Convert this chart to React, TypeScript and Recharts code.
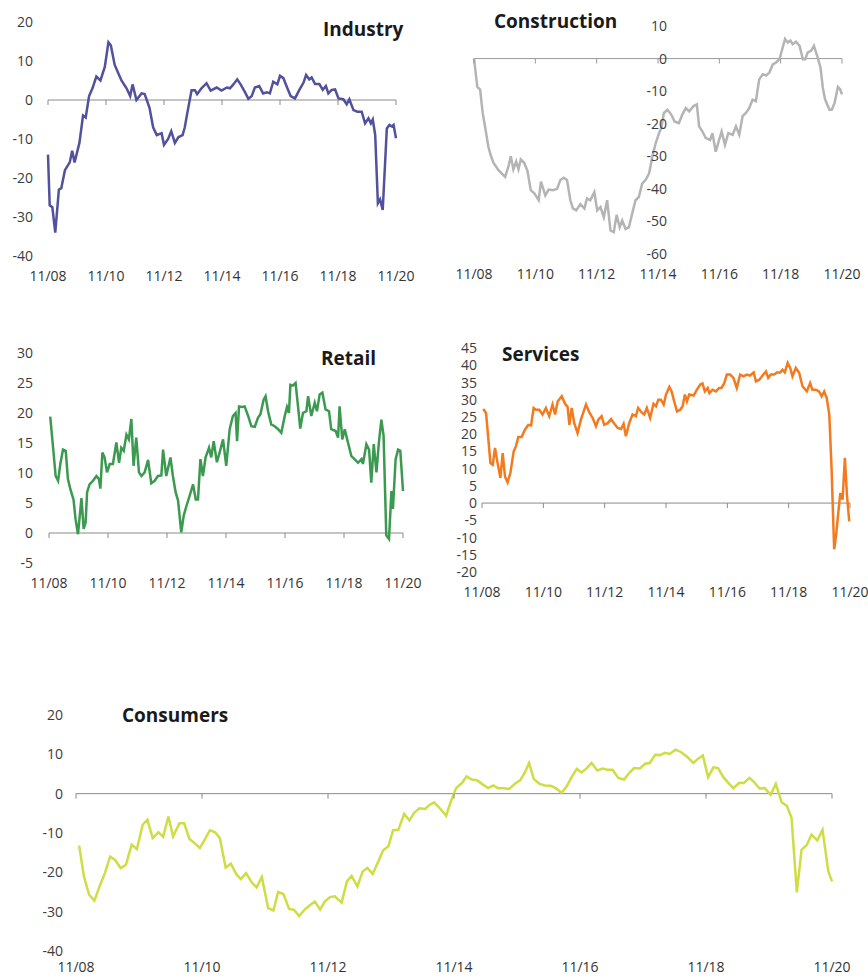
import React from 'react';
import { LineChart, Line, XAxis, YAxis, ReferenceLine, ReferenceDot } from 'recharts';

type Pt = [number, number];

const monthTicks = [0, 24, 48, 72, 96, 120, 144];
const tickLabels = ['11/08', '11/10', '11/12', '11/14', '11/16', '11/18', '11/20'];

const industryTicks = [20, 10, 0, -10, -20, -30, -40];
const constructionTicks = [10, 0, -10, -20, -30, -40, -50, -60];
const retailTicks = [30, 25, 20, 15, 10, 5, 0, -5];
const servicesTicks = [45, 40, 35, 30, 25, 20, 15, 10, 5, 0, -5, -10, -15, -20];
const consumersTicks = [20, 10, 0, -10, -20, -30, -40];

const industry: Pt[] = [
  [0, -14], [0.7, -27], [1.8, -27.5], [3, -34], [4.5, -23], [5.5, -22.6], [7, -18], [9, -16], [10, -13], [11, -16],
  [13, -11], [14.5, -4], [15.6, -4.5], [17, 1], [18.4, 3], [20, 6], [21.7, 5], [23.5, 8.5], [25, 14.8], [26, 14],
  [27.6, 9], [29, 7], [30.4, 5], [32.5, 3], [34, 1], [35, 4], [36.6, 0], [38.7, 1.7], [40, 1.5], [42, -2],
  [43.5, -7], [45, -9], [47, -8.5], [48, -11.5], [49.7, -10], [51, -8], [52.5, -11], [54, -9.5], [55.7, -9], [56.6, -7],
  [57.6, -3.5], [59.4, 2.5], [60.8, 2.5], [61.7, 1.5], [63.5, 3], [65.6, 4.3], [67.3, 2.4], [69.8, 3.2], [71.8, 2.4], [74, 3.2],
  [75.3, 3], [76.7, 4], [78.3, 5.3], [79.7, 4], [81.5, 2], [82.9, 0.3], [84.3, 1], [85.6, 3.2], [87.4, 3.6], [89, 1.7],
  [90.5, 2], [91.8, 1.7], [93.2, 4.7], [94.9, 4], [96, 6.2], [97.4, 5.6], [98.8, 3.4], [100.4, 1], [102.2, 0.4], [104, 2.6],
  [105.7, 4.4], [106.8, 6.4], [108.1, 5.3], [109.1, 5.8], [110.5, 4.1], [112.3, 4.1], [113.7, 2.6], [115, 3.6], [116, 1.7], [117.4, 2.6],
  [118.8, 2.7], [120.2, 0.4], [122.2, 0.2], [123.6, -1.1], [124.7, 0.2], [126.4, -2.6], [128, -3], [129.8, -3], [131.2, -6], [132.6, -4.7],
  [133.6, -6], [134.4, -5], [135.4, -9], [136.5, -26.5], [137.4, -25.5], [138.5, -28.2], [139.5, -16], [140.2, -7.3], [141.3, -6.4], [142.3, -6.8],
  [143, -6.4], [144, -9.8],
];

const construction: Pt[] = [
  [0, 0], [1.3, -8.7], [2.4, -9.5], [3.4, -16.7], [4.3, -20.8], [5.6, -27], [6.5, -29.6], [7.6, -32], [9.5, -34.2], [10.9, -35.3],
  [12.2, -36.3], [13.5, -33], [14.4, -30], [15.4, -34], [16.5, -31.6], [17.4, -34], [18.3, -31], [19.6, -32], [20.9, -34.4], [22.2, -40.4],
  [23.6, -41.4], [25.3, -43.5], [26.2, -37.8], [27.9, -42], [29.2, -40.2], [30.9, -40.4], [32.5, -40], [33.8, -37.3], [35.1, -36.6], [36.4, -37.3],
  [37.7, -43.5], [38.7, -46], [40, -46.6], [41.6, -44.7], [43.2, -46], [44.2, -42.9], [45.5, -43.5], [47.1, -41], [48.2, -46.6], [49.5, -45.6],
  [50.8, -48.7], [52.1, -43.5], [53.4, -52.8], [54.7, -53.3], [55.8, -48], [57, -51.8], [58, -49.7], [59.3, -52.3], [60.6, -51.8], [61.9, -47.6],
  [63.2, -43.5], [64.5, -42.5], [65.8, -38.4], [67.1, -37.3], [68.5, -35.3], [69.8, -30], [71.1, -26], [72.4, -22.9], [73.3, -21.3], [74.3, -16.7],
  [75.7, -15.7], [77.2, -17.2], [78.5, -19.3], [80.2, -19.8], [81.5, -17.2], [82.9, -15.2], [84.2, -16.2], [85.9, -14.6], [87.2, -14.1], [88.1, -20.8],
  [89.4, -22.4], [90.7, -24.4], [92.4, -25], [93.3, -22.9], [94.6, -28.6], [95.9, -25], [96.9, -22.4], [98.2, -26.5], [99.5, -22.9], [101.2, -23.4],
  [102.5, -20.8], [103.8, -23.4], [105.1, -17.7], [106.4, -16.7], [107.7, -15.2], [109, -12.6], [110.3, -13.1], [111.6, -6.4], [113, -4.8], [114.3, -5.2],
  [115.6, -4.3], [116.9, -1.8], [118.2, -1.2], [119.5, -0.2], [120.8, 3.4], [121.7, 6], [122.8, 4.9], [123.8, 5.5], [124.7, 4.4], [126, 5.2],
  [127.4, 3.9], [128.7, -0.2], [129.6, -0.2], [130.6, 1.9], [131.9, 2.4], [133, 3.9], [134.3, 0.8], [135.6, -2.8], [136.5, -9], [137.4, -12.6],
  [139.1, -15.7], [140, -15.7], [141.1, -13.6], [142.4, -8.7], [143.3, -9.5], [144, -11],
];

const retail: Pt[] = [
  [0.5, 19.4], [1.6, 14.5], [2.7, 9.5], [3.7, 8.7], [4.6, 11.5], [5.7, 13.9], [6.8, 13.7], [7.7, 9], [8.7, 7.3], [10, 5.5],
  [10.8, 2.3], [11.8, -0.2], [13.2, 5.8], [14.1, 0.7], [14.9, 1.8], [15.5, 6.8], [16.5, 8.1], [17.9, 8.7], [19.3, 9.5], [20.3, 9],
  [20.9, 7.4], [21.7, 13.4], [22.6, 12.6], [23.6, 10.1], [24.7, 11.5], [26, 11.5], [27.4, 15.1], [28.5, 11.7], [29.4, 14.2], [30.4, 13.7],
  [31.5, 16.4], [32.5, 15.6], [33.5, 19], [34.4, 11.2], [35.5, 15.9], [36.6, 10.1], [37.6, 9.5], [38.9, 10.1], [40.3, 12.2], [41.6, 8.3],
  [43, 8.7], [44.3, 9.5], [45.7, 9.6], [46.4, 13.9], [47.7, 9.5], [49.4, 12.6], [50.4, 9.5], [51.5, 6.8], [52.5, 5.4], [53.8, 0.1],
  [54.8, 2.9], [55.9, 4.5], [57.2, 6.2], [58.6, 8.1], [59.7, 5.6], [60.6, 5.6], [61.6, 12.3], [62.6, 9.5], [63.7, 12.6], [65.1, 14.2],
  [66, 12.6], [67, 15.3], [68.3, 11.8], [69.4, 13.4], [70.8, 15.6], [72.1, 11.2], [73.5, 17.3], [74.8, 19.5], [75.9, 20], [76.5, 15.3],
  [77.3, 21.1], [78.6, 21], [79.6, 21.1], [81, 19.5], [82.3, 17.8], [83.7, 17.7], [85, 19.2], [86, 19.8], [87.3, 22.2], [88.1, 22.8],
  [89.1, 20.3], [90.4, 18.1], [91.8, 17.8], [93.2, 17.3], [94.5, 16.7], [95.9, 19.5], [96.8, 21], [97.6, 20], [98.2, 24.7], [99.3, 24.6],
  [100.3, 25], [101.3, 21.1], [102.2, 17.4], [103.3, 20], [104.7, 20.3], [105.4, 22.8], [106.7, 19.5], [108.1, 21.7], [109, 20.3], [110.1, 23.1],
  [111.2, 23.4], [112.5, 20.6], [113.9, 20.3], [114.8, 17.3], [116.6, 17], [117.6, 15.9], [118.2, 21.1], [119.3, 15.6], [120.3, 17.3], [121.6, 15.1],
  [123, 12.8], [124.3, 12.3], [125.7, 11.7], [127.1, 12.3], [127.7, 11.5], [129.1, 14.8], [130.2, 13.9], [131.1, 8.4], [132.1, 14.8], [133.2, 10.1],
  [134.2, 15.1], [135.2, 18.9], [136.1, 16.2], [137.2, -0.4], [138.3, -1], [139.3, 7], [139.9, 4], [141, 12.3], [142, 13.9], [142.9, 13.7],
  [144, 7],
];

const services: Pt[] = [
  [0.5, 27.3], [1.6, 26.1], [2.5, 18.4], [3.3, 11.6], [4.2, 11.1], [5.1, 16], [6.1, 11.6], [7.2, 7.3], [8.1, 14.5], [9, 7.7],
  [10, 6], [11.1, 8.7], [12.4, 15], [13.3, 16.5], [14.2, 19.2], [15.5, 19.2], [16.8, 21.3], [18.1, 22.7], [19.2, 22.5], [20.2, 27.6],
  [21.1, 27.1], [22.4, 27.1], [23.7, 25.7], [25, 27.6], [26.3, 25.2], [27.6, 28.6], [28.6, 25.7], [29.6, 29.5], [31.2, 31], [32.5, 28.8],
  [33.5, 27.9], [34.2, 22.7], [35.1, 27.6], [36.1, 23.2], [37.4, 20.3], [38.7, 24.2], [40.7, 28.6], [42, 26.3], [43.3, 24.7], [44.6, 22.3],
  [45.5, 24.2], [46.8, 25.2], [47.8, 22.7], [49.2, 23.2], [50.5, 24.4], [51.8, 23], [53.1, 21.8], [54.4, 21.5], [55.4, 23], [56.3, 19.4],
  [57.6, 23.2], [58.9, 25.7], [60.2, 25.2], [61.1, 27.6], [62.5, 26.3], [63.5, 25.7], [64.5, 27.6], [65.8, 24.7], [67.1, 28.8], [68.1, 28.1],
  [69, 30], [70, 30], [71.1, 28.6], [72, 31.5], [73.3, 33.7], [74.2, 32.4], [75.2, 29.5], [76.3, 26.6], [77.6, 27.1], [78.5, 28.1],
  [79.4, 31.5], [80.2, 29.5], [81.1, 31.5], [82.8, 31.2], [84.1, 32.9], [85.4, 34.4], [86.3, 34.7], [87.2, 32.4], [88.3, 33.4], [89, 31.9],
  [90.2, 32.9], [91.5, 32.4], [92.8, 33.4], [93.7, 33.4], [94.8, 34.8], [95.8, 37.3], [97.1, 37.3], [98.4, 36.3], [99.7, 33.4], [101, 37.3],
  [102.3, 36.8], [103.6, 37.3], [104.9, 37], [106.3, 37.9], [107.2, 35.3], [108.5, 35.8], [109.8, 37], [111.1, 38.2], [112, 36.3], [113, 37.3],
  [114.3, 37.3], [115.4, 37.9], [116.7, 37.9], [117.6, 38.7], [118.5, 37.9], [119.6, 40.7], [120.6, 39.2], [121.5, 36.8], [122.8, 39.2], [124.1, 37.8],
  [125.4, 33.9], [127.1, 32.4], [128.4, 34.8], [129.3, 32.9], [130.6, 32.9], [131.9, 32.4], [132.9, 31], [133.9, 32.4], [134.9, 30.5], [135.9, 25.7],
  [136.8, 9.7], [137.8, -13.4], [138.5, -9.7], [139.4, -2.9], [140.2, 2.9], [141.1, 1], [142, 13.1], [142.8, 2.4], [143.7, -5.3],
];

const consumers: Pt[] = [
  [0.6, -13.2], [1.5, -21], [2.5, -25.7], [3.5, -27.2], [4.6, -23.2], [5.5, -20.2], [6.5, -16], [7.4, -16.8], [8.5, -18.9], [9.5, -18.1],
  [10.6, -13], [11.6, -14.1], [12.7, -7.9], [13.6, -6.6], [14.6, -11.3], [15.7, -9.8], [16.6, -11], [17.6, -5.8], [18.5, -10.9], [19.7, -7.5],
  [20.6, -7.5], [21.6, -11.5], [22.7, -12.7], [23.6, -13.8], [24.6, -11.5], [25.5, -9.3], [26.5, -9.8], [27.4, -11.3], [28.5, -18.8], [29.5, -17.8],
  [30.5, -20.4], [31.4, -21.7], [32.4, -20.2], [33.5, -22.6], [34.4, -23.8], [35.4, -21.2], [36.6, -29.1], [37.6, -29.7], [38.5, -25], [39.5, -25.5],
  [40.6, -29.3], [41.5, -29.5], [42.5, -31.1], [43.6, -29.4], [44.6, -28.3], [45.5, -27.4], [46.5, -29.5], [47.4, -27.4], [48.4, -26.3], [49.3, -26.1],
  [50.6, -27.7], [51.6, -22.3], [52.5, -20.9], [53.6, -23.6], [54.6, -19.8], [55.5, -18.9], [56.5, -20.4], [57.6, -17.2], [58.5, -14.4], [59.5, -13.4],
  [60.4, -9.3], [61.4, -9.2], [62.5, -5.1], [63.5, -6.8], [64.4, -4.9], [65.4, -3.7], [66.5, -3.9], [67.4, -2.8], [68.2, -2.2], [69.3, -3.7],
  [70.5, -5.6], [71.4, -2], [72.4, 1.4], [73.5, 2.7], [74.4, 4.4], [75.4, 3.6], [76.4, 3.4], [77.5, 2.3], [78.5, 1.4], [79.5, 2.1],
  [80.4, 1.4], [81.5, 1.4], [82.5, 1.2], [83.6, 2.5], [84.6, 3.4], [85.5, 5.4], [86.3, 7.8], [87.2, 3.7], [88.3, 2.5], [89.3, 2.1],
  [90.4, 2], [91.4, 1.4], [92.5, 0.2], [93.5, 1.9], [94.4, 4.2], [95.4, 6.3], [96.3, 5.4], [97.3, 6.5], [98.2, 7.8], [99.3, 5.9],
  [100.3, 6.4], [101.2, 6.1], [102.2, 6.1], [103.3, 4], [104.4, 3.6], [105.4, 5.3], [106.3, 6.5], [107.4, 6.4], [108.4, 7.6], [109.3, 7.8],
  [110.3, 9.9], [111.2, 9.8], [112.2, 10.4], [113.1, 10.1], [114.2, 11.2], [115.2, 10.6], [116.3, 9.5], [117.6, 7.8], [118.5, 8.9], [119.4, 9.7],
  [120.4, 4.2], [121.4, 6.7], [122.3, 6.5], [123.3, 4.2], [124.3, 2.7], [125.2, 1.4], [126.3, 2.7], [127.2, 2.7], [128.3, 4], [129.2, 2.9],
  [130.2, 1.3], [131.2, 1.4], [132.3, -0.3], [133.3, 2.5], [134.4, -2.2], [135.4, -3.1], [136.3, -6.2], [137.3, -25.1], [138.2, -14.3], [139.2, -13],
  [140.1, -10.4], [141.2, -11.9], [142.2, -9.2], [143.3, -19.8], [144, -22.3],
];

const FONT = '"Open Sans", "DejaVu Sans", sans-serif';

interface PanelProps {
  box: { x: number; y: number; w: number; h: number };
  plot: { l: number; r: number; t: number; b: number };
  domain: [number, number];
  yTicks: number[];
  series: Pt[];
  color: string;
  labelRight: number;
  axisColor?: string;
  xTickMargin?: number;
}

const XAXIS_H = 30;

function Panel({ box, plot, domain, yTicks, series, color, labelRight, axisColor = '#8a8a8a', xTickMargin = 15 }: PanelProps) {
  const data = series.map(([m, v]) => ({ m, v }));
  const margin = {
    top: plot.t - box.y,
    right: box.x + box.w - plot.r,
    left: 0,
    bottom: box.y + box.h - plot.b - XAXIS_H,
  };
  const yW = plot.l - box.x;
  const labelX = labelRight - box.x;
  const renderYTick = (p: any) => (
    <text x={labelX} y={p.y} dy="0.36em" textAnchor="end" fontSize={14} fontFamily={FONT} fill="#3c3c3c">
      {p.payload.value}
    </text>
  );
  const tickMark = (p: any) => (
    <line x1={p.cx} y1={p.cy} x2={p.cx} y2={p.cy + 5} stroke={axisColor} strokeWidth={1} />
  );
  return (
    <div style={{ position: 'absolute', left: box.x, top: box.y, width: box.w, height: box.h }}>
      <LineChart width={box.w} height={box.h} data={data} margin={margin}>
        <XAxis
          dataKey="m"
          type="number"
          domain={[0, 144]}
          ticks={monthTicks}
          interval={0}
          tickFormatter={(v: number) => tickLabels[monthTicks.indexOf(v)]}
          axisLine={false}
          tickLine={false}
          tickSize={0}
          tickMargin={xTickMargin}
          height={XAXIS_H}
          tick={{ fontSize: 14, fontFamily: FONT, fill: '#333' }}
        />
        <YAxis
          type="number"
          domain={domain}
          ticks={yTicks}
          interval={0}
          axisLine={false}
          tickLine={false}
          tickSize={0}
          tickMargin={0}
          width={yW}
          tick={renderYTick}
        />
        <ReferenceLine y={0} stroke={axisColor} strokeWidth={1} ifOverflow="visible" />
        {monthTicks.map((t) => (
          <ReferenceDot key={t} x={t} y={0} r={0} ifOverflow="visible" shape={tickMark} />
        ))}
        <Line
          type="linear"
          dataKey="v"
          stroke={color}
          strokeWidth={2.5}
          dot={false}
          isAnimationActive={false}
        />
      </LineChart>
    </div>
  );
}

const titleStyle = (left: number, baseline: number): React.CSSProperties => ({
  position: 'absolute',
  left,
  top: baseline - 17,
  fontFamily: FONT,
  fontWeight: 700,
  fontSize: 19,
  lineHeight: '19px',
  color: '#1a1a1a',
  whiteSpace: 'nowrap',
});

export default function App() {
  return (
    <div style={{ position: 'absolute', left: 0, top: 0, width: 868, height: 978, background: '#fff', overflow: 'hidden' }}>
      <Panel
        box={{ x: 0, y: 0, w: 434, h: 295 }}
        plot={{ l: 48, r: 396, t: 22, b: 256 }}
        domain={[-40, 20]}
        yTicks={industryTicks}
        series={industry}
        color="#52519c"
        labelRight={33}
      />
      <Panel
        box={{ x: 434, y: 0, w: 434, h: 295 }}
        plot={{ l: 474, r: 842, t: 26, b: 254 }}
        domain={[-60, 10]}
        yTicks={constructionTicks}
        series={construction}
        color="#b4b4b4"
        labelRight={667}
        axisColor="#9a9a9a"
      />
      <Panel
        box={{ x: 0, y: 325, w: 434, h: 275 }}
        plot={{ l: 49, r: 403, t: 353, b: 563 }}
        domain={[-5, 30]}
        yTicks={retailTicks}
        series={retail}
        color="#3b9a50"
        labelRight={33}
      />
      <Panel
        box={{ x: 434, y: 325, w: 434, h: 282 }}
        plot={{ l: 482, r: 850, t: 348, b: 572 }}
        domain={[-20, 45]}
        yTicks={servicesTicks}
        series={services}
        color="#f37a1f"
        labelRight={477}
      />
      <Panel
        box={{ x: 0, y: 690, w: 868, h: 288 }}
        plot={{ l: 76, r: 832, t: 715, b: 951 }}
        domain={[-40, 20]}
        yTicks={consumersTicks}
        series={consumers}
        color="#cfdd45"
        labelRight={63}
        xTickMargin={11}
      />
      <div style={titleStyle(323, 36.5)}>Industry</div>
      <div style={titleStyle(494, 28.5)}>Construction</div>
      <div style={titleStyle(321, 366)}>Retail</div>
      <div style={titleStyle(502, 362)}>Services</div>
      <div style={titleStyle(122, 723)}>Consumers</div>
    </div>
  );
}
